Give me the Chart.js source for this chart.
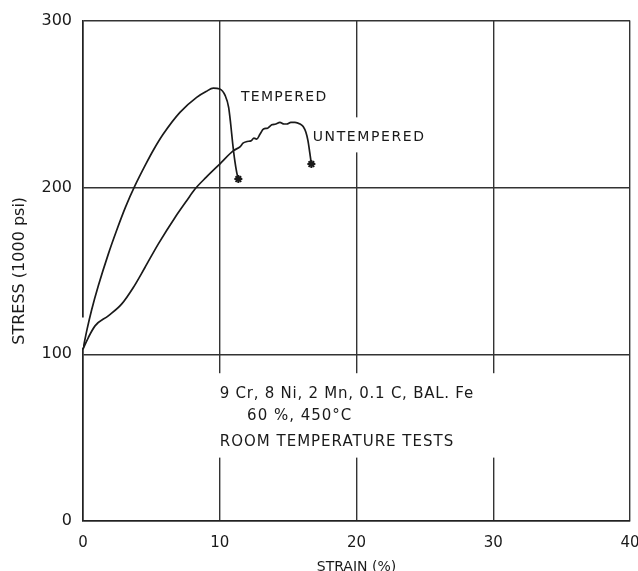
<!DOCTYPE html>
<html>
<head>
<meta charset="utf-8">
<script src="https://cdn.jsdelivr.net/npm/chart.js@4/dist/chart.umd.min.js"></script>
<style>
  html, body { margin: 0; padding: 0; background: #fff; }
  #wrap { width: 638px; height: 571px; }
</style>
</head>
<body>
<div id="wrap"><canvas id="c" width="638" height="571"></canvas></div>
<script>
// Stress-strain curves, 9Cr-8Ni-2Mn-0.1C steel, room temperature tests
const strainTempered = [0, 0.3, 0.63, 1.12, 1.85, 2.45, 3.1, 3.8, 4.66, 5.12, 5.87, 7.09, 8.31, 9.0, 9.53, 10.0, 10.4, 10.65, 10.8, 10.95, 11.1, 11.24, 11.36];
const stressTempered = [103, 115, 126.5, 141, 160, 174, 188, 201, 215, 222, 232, 245, 254, 257.5, 259.5, 259, 255, 248, 238, 226, 216, 209, 205];

const strainUntempered = [0, 0.39, 0.88, 1.85, 2.82, 3.68, 4.53, 5.5, 6.73, 7.58, 8.19, 9.0, 10.0, 11.0, 11.5, 11.7, 12.0, 12.3, 12.5, 12.7, 12.95, 13.2, 13.5, 13.8, 14.1, 14.4, 14.7, 14.9, 15.2, 15.5, 15.87, 16.1, 16.3, 16.45, 16.58, 16.7];
const stressUntempered = [103, 110, 117, 123, 130, 140, 152, 166, 182, 192, 199, 206, 214, 222, 224.5, 226.5, 227.5, 228, 229.5, 229, 232, 235, 235.5, 237.5, 238, 239, 238, 238, 239, 239, 238, 236.5, 233, 228, 221, 214];

const strainTicks = [0, 10, 20, 30, 40];
const stressTicks = [0, 100, 200, 300];

const curveLabels = ['TEMPERED', 'UNTEMPERED'];
const noteLines = ['9 Cr, 8 Ni, 2 Mn, 0.1 C, BAL. Fe', '60 %, 450°C', 'ROOM TEMPERATURE TESTS'];

const FONT = '"DejaVu Sans", "Liberation Sans", sans-serif';
const INK = '#1a1a1a';

function toPoints(xs, ys) { return xs.map((x, i) => ({ x: x, y: ys[i] })); }

// fracture marker only on the last point of each curve
function endRadius(ctx) {
  return ctx.dataIndex === ctx.dataset.data.length - 1 ? 4 : 0;
}

// white patches that interrupt grid lines around the lettering
const gapPatches = [
  { x0: 9.5, x1: 30.6, y0: 38, y1: 88.6 },
  { x0: 16.6, x1: 25.4, y0: 221, y1: 242 },
  { x0: -0.25, x1: 0.25, y0: 104, y1: 122 }
];

const lettering = {
  id: 'lettering',
  beforeDatasetsDraw(chart) {
    const { ctx, scales: { x, y } } = chart;
    ctx.save();
    ctx.fillStyle = '#fff';
    gapPatches.forEach(p => {
      const l = x.getPixelForValue(p.x0), r = x.getPixelForValue(p.x1);
      const t = y.getPixelForValue(p.y1), b = y.getPixelForValue(p.y0);
      ctx.fillRect(l, t, r - l, b - t);
    });
    ctx.restore();
  },
  afterDatasetsDraw(chart) {
    const { ctx, scales: { x, y } } = chart;
    ctx.save();
    ctx.fillStyle = INK;
    ctx.textBaseline = 'alphabetic';
    ctx.textAlign = 'left';
    ctx.font = '14px ' + FONT;
    ctx.letterSpacing = '1.3px';
    ctx.fillText(curveLabels[0], x.getPixelForValue(11.55), y.getPixelForValue(252));
    ctx.letterSpacing = '1.6px';
    ctx.fillText(curveLabels[1], x.getPixelForValue(16.8), y.getPixelForValue(228));
    ctx.font = '15px ' + FONT;
    ctx.letterSpacing = '0.75px';
    ctx.fillText(noteLines[0], x.getPixelForValue(10.0), y.getPixelForValue(73.6));
    ctx.letterSpacing = '1px';
    ctx.fillText(noteLines[1], x.getPixelForValue(12.0), y.getPixelForValue(60.5));
    ctx.fillText(noteLines[2], x.getPixelForValue(10.0), y.getPixelForValue(44.9));
    ctx.restore();
  }
};

const curveStyle = {
  borderColor: INK,
  backgroundColor: INK,
  borderWidth: 1.7,
  pointStyle: 'star',
  pointRadius: endRadius,
  pointBorderWidth: 2,
  pointHoverRadius: endRadius,
  cubicInterpolationMode: 'monotone',
  fill: false
};

new Chart(document.getElementById('c'), {
  type: 'line',
  data: {
    datasets: [
      Object.assign({ label: curveLabels[0], data: toPoints(strainTempered, stressTempered) }, curveStyle),
      Object.assign({ label: curveLabels[1], data: toPoints(strainUntempered, stressUntempered) }, curveStyle)
    ]
  },
  options: {
    responsive: false,
    animation: false,
    events: [],
    layout: { padding: { top: 20, right: 8, bottom: 0, left: 0 } },
    plugins: { legend: { display: false }, tooltip: { enabled: false } },
    scales: {
      x: {
        type: 'linear',
        min: strainTicks[0],
        max: strainTicks[strainTicks.length - 1],
        afterBuildTicks(scale) { scale.ticks = strainTicks.map(v => ({ value: v })); },
        afterFit(scale) { scale.height = 50; scale.paddingLeft = 0; scale.paddingRight = 0; },
        grid: { color: '#333', lineWidth: 1.4, drawTicks: false },
        border: { color: '#222', width: 1.6 },
        ticks: { color: INK, padding: 13, maxRotation: 0, font: { family: FONT, size: 15 } },
        title: {
          display: true, text: 'STRAIN (%)', color: INK,
          font: { family: FONT, size: 14, lineHeight: 1 },
          padding: { top: 0, bottom: -3 }
        }
      },
      y: {
        type: 'linear',
        min: stressTicks[0],
        max: stressTicks[stressTicks.length - 1],
        afterBuildTicks(scale) { scale.ticks = stressTicks.map(v => ({ value: v })); },
        afterFit(scale) { scale.width = 83; },
        grid: { color: '#333', lineWidth: 1.4, drawTicks: false },
        border: { color: '#222', width: 1.6 },
        ticks: { color: INK, padding: 11, font: { family: FONT, size: 16 } },
        title: {
          display: true, text: 'STRESS (1000 psi)', color: INK,
          font: { family: FONT, size: 16, lineHeight: 1 },
          padding: { top: 12, bottom: 0 }
        }
      }
    }
  },
  plugins: [lettering]
});
</script>
</body>
</html>
